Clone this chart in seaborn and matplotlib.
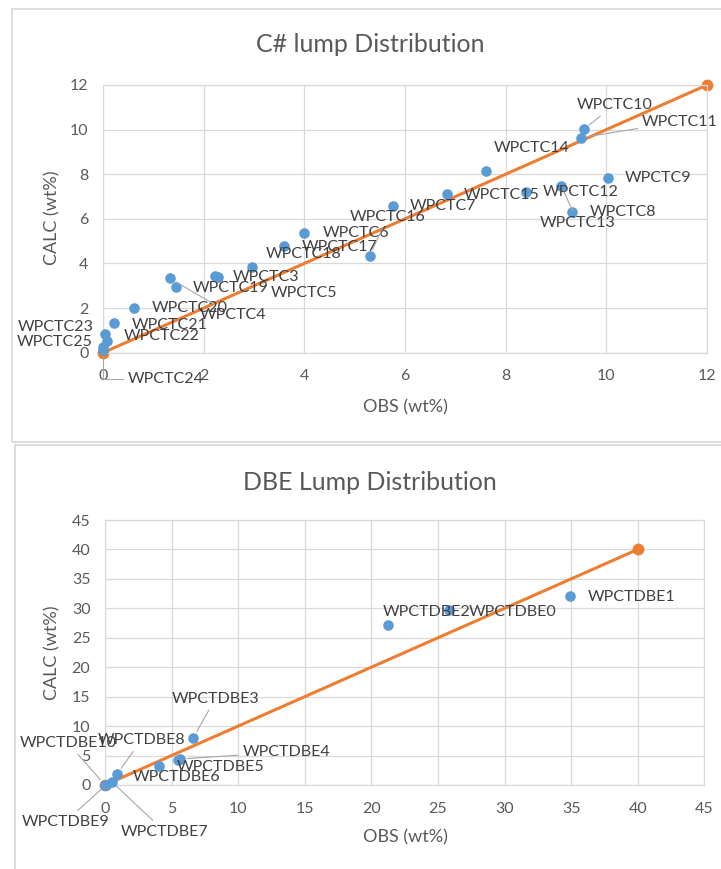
import matplotlib
matplotlib.use("Agg")
import matplotlib.pyplot as plt
from matplotlib.patches import Rectangle
import seaborn as sns


# ==================================
# DATA
# ==================================

c_names = ["WPCTC3", "WPCTC19", "WPCTC5", "WPCTC18", "WPCTC17", "WPCTC6",
           "WPCTC16", "WPCTC7", "WPCTC15", "WPCTC14", "WPCTC12", "WPCTC13",
           "WPCTC8", "WPCTC9", "WPCTC10", "WPCTC11", "WPCTC20", "WPCTC4",
           "WPCTC21", "WPCTC23", "WPCTC22", "WPCTC25", "WPCTC24"]
c_obs = [2.23, 1.45, 2.29, 2.97, 3.60, 4.00,
         5.30, 5.76, 6.83, 7.60, 8.40, 9.10,
         9.31, 10.03, 9.55, 9.50, 0.62, 1.33,
         0.22, 0.03, 0.07, 0.00, 0.00]
c_calc = [3.44, 2.96, 3.38, 3.83, 4.78, 5.35,
          4.35, 6.59, 7.12, 8.16, 7.19, 7.49,
          6.32, 7.82, 10.02, 9.64, 2.02, 3.33,
          1.32, 0.82, 0.52, 0.27, 0.10]
c_line = [0, 12]

dbe_names = ["WPCTDBE0", "WPCTDBE1", "WPCTDBE2", "WPCTDBE3", "WPCTDBE4",
             "WPCTDBE5", "WPCTDBE6", "WPCTDBE7", "WPCTDBE8", "WPCTDBE9",
             "WPCTDBE10"]
dbe_obs = [25.85, 34.9, 21.27, 6.63, 5.63, 5.5, 4.08, 0.5, 0.92, 0.1, 0.0]
dbe_calc = [29.7, 32.1, 27.2, 8.03, 4.41, 4.3, 3.28, 0.57, 1.87, 0.05, 0.0]
dbe_line = [0, 40]


# ==================================
# LABEL LAYOUT  (pixel offsets, image y down, align, leader)
# ==================================

c_layout = {
    "WPCTC3": (18, 1, "left", False),
    "WPCTC19": (17, 1, "left", False),
    "WPCTC5": (52, 16, "left", False),
    "WPCTC18": (13, -13, "left", False),
    "WPCTC17": (18, 1, "left", False),
    "WPCTC6": (18, 0, "left", False),
    "WPCTC16": (18, -39, "center", True),
    "WPCTC7": (17, 0, "left", False),
    "WPCTC15": (17, 1, "left", False),
    "WPCTC14": (46, -23, "center", False),
    "WPCTC12": (17, 0, "left", False),
    "WPCTC13": (17, 37, "center", True),
    "WPCTC8": (18, 0, "left", False),
    "WPCTC9": (17, 0, "left", False),
    "WPCTC10": (31, -24, "center", True),
    "WPCTC11": (61, -16, "left", True),
    "WPCTC20": (18, 0, "left", False),
    "WPCTC4": (30, 37, "left", True),
    "WPCTC21": (18, 2, "left", False),
    "WPCTC23": (-11, -7, "right", False),
    "WPCTC22": (17, -5, "left", False),
    "WPCTC25": (-10, -5, "right", False),
    "WPCTC24": (25, 29, "left", True),
}

dbe_layout = {
    "WPCTDBE0": (19, 2, "left", False),
    "WPCTDBE1": (18, 1, "left", False),
    "WPCTDBE2": (-6, -13, "left", False),
    "WPCTDBE3": (22, -39, "center", True),
    "WPCTDBE4": (63, -7, "left", True),
    "WPCTDBE5": (-1, 7, "left", False),
    "WPCTDBE6": (17, 11, "center", False),
    "WPCTDBE7": (53, 50, "center", True),
    "WPCTDBE8": (24, -34, "center", True),
    "WPCTDBE9": (-41, 37, "center", True),
    "WPCTDBE10": (-37, -42, "center", True),
}


# ==================================
# STYLE
# ==================================

sns.set_theme(style="white")
plt.rcParams["font.family"] = ["Lato", "DejaVu Sans"]

BLUE = "#5B9BD5"
ORANGE = "#ED7D31"
GRID = "#d9d9d9"
TXT = "#595959"
LBL = "#404040"

W, H = 721, 869
fig = plt.figure(figsize=(W / 100, H / 100), dpi=100)
fig.patch.set_facecolor("white")


def fx(px):
    return px / W


def fy(py):
    return 1 - py / H


# panel frames
fig.patches.append(Rectangle((fx(12), fy(442)), fx(735) - fx(12), fy(9) - fy(442),
                             transform=fig.transFigure, fill=False,
                             edgecolor=GRID, lw=1.3))
fig.patches.append(Rectangle((fx(15), fy(880)), fx(735) - fx(15), fy(445) - fy(880),
                             transform=fig.transFigure, fill=False,
                             edgecolor=GRID, lw=1.3))


def draw_panel(rect, obs, calc, names, line, layout, lim, step):
    ax = fig.add_axes(rect)

    sns.lineplot(x=line, y=line, ax=ax, color=ORANGE, lw=2.2,
                 marker="o", markersize=8.5, markeredgewidth=0, zorder=2.5,
                 clip_on=False)
    sns.scatterplot(x=obs, y=calc, ax=ax, color=BLUE, s=58,
                    linewidth=0, zorder=3, clip_on=False)

    ax.set_xlim(0, lim)
    ax.set_ylim(0, lim)
    ticks = list(range(0, lim + 1, step))
    ax.set_xticks(ticks)
    ax.set_yticks(ticks)
    ax.grid(True, color=GRID, lw=0.9)
    ax.set_axisbelow(True)
    for sp in ax.spines.values():
        sp.set_color(GRID)
        sp.set_linewidth(0.9)
    ax.tick_params(axis="x", length=0, pad=12, labelsize=11.5, labelcolor=TXT)
    ax.tick_params(axis="y", length=0, pad=10.5, labelsize=11.5, labelcolor=TXT)
    ax.set_xlabel("")
    ax.set_ylabel("")

    for name, x, y in zip(names, obs, calc):
        dx, dy, ha, leader = layout[name]
        arrow = None
        if leader:
            arrow = dict(arrowstyle="-", color="#a6a6a6", lw=0.8,
                         shrinkA=1, shrinkB=5)
            if name == "WPCTC24":
                arrow["connectionstyle"] = "angle,angleA=180,angleB=90,rad=0"
        ax.annotate(name, xy=(x, y), xytext=(dx, -dy),
                    textcoords="offset pixels", ha=ha, va="center",
                    fontsize=11.5, color=LBL, arrowprops=arrow,
                    annotation_clip=False, zorder=5)
    return ax


# ==================================
# C# LUMP
# ==================================

draw_panel([fx(103), fy(352.7), fx(707) - fx(103), fy(85) - fy(352.7)],
           c_obs, c_calc, c_names, c_line, c_layout, 12, 2)

fig.text(fx(370), fy(45), "C# lump Distribution", ha="center", va="center",
         fontsize=18, color=TXT)
fig.text(fx(405), fy(407), "OBS (wt%)", ha="center", va="center",
         fontsize=13, color=TXT)
fig.text(fx(52), fy(218), "CALC (wt%)", ha="center", va="center",
         rotation=90, fontsize=13, color=TXT)


# ==================================
# DBE LUMP
# ==================================

draw_panel([fx(105), fy(785), fx(704.3) - fx(105), fy(520) - fy(785)],
           dbe_obs, dbe_calc, dbe_names, dbe_line, dbe_layout, 45, 5)

fig.text(fx(370), fy(482), "DBE Lump Distribution", ha="center", va="center",
         fontsize=18, color=TXT)
fig.text(fx(405), fy(837), "OBS (wt%)", ha="center", va="center",
         fontsize=13, color=TXT)
fig.text(fx(52), fy(653), "CALC (wt%)", ha="center", va="center",
         rotation=90, fontsize=13, color=TXT)

plt.savefig("out.png", dpi=100)
